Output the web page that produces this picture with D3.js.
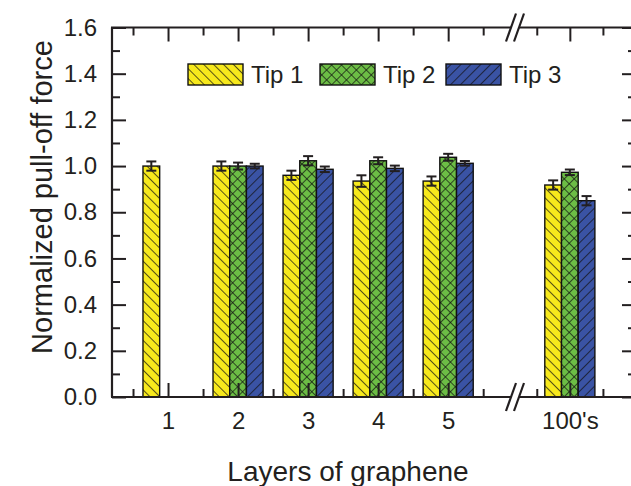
<!doctype html>
<html lang="en">
<head>
<meta charset="utf-8">
<title>Normalized pull-off force vs graphene layers</title>
<script src="https://cdn.jsdelivr.net/npm/d3@7"></script>
<style>
    body { margin: 0; background: #fff; }
    svg { display: block; font-family: Arial, "Liberation Sans", Helvetica, sans-serif; }
</style>
</head>
<body>
<svg></svg>
<script>
    // data
    var categories = ["1", "2", "3", "4", "5", "100's"];
    var catPos = [1, 2, 3, 4, 5, 7];          // position on the (broken) x axis
    var tips = ["Tip 1", "Tip 2", "Tip 3"];
    var tip1 = [1.00, 1.00, 0.96, 0.935, 0.935, 0.918];
    var tip2 = [null, 1.00, 1.023, 1.023, 1.038, 0.973];
    var tip3 = [null, 1.00, 0.986, 0.99, 1.012, 0.85];
    var tip1Err = [0.02, 0.02, 0.02, 0.025, 0.02, 0.02];
    var tip2Err = [null, 0.015, 0.02, 0.015, 0.015, 0.012];
    var tip3Err = [null, 0.01, 0.012, 0.012, 0.01, 0.02];
    var yMajor = [0, 0.2, 0.4, 0.6, 0.8, 1.0, 1.2, 1.4, 1.6];
    var yMinor = [0.1, 0.3, 0.5, 0.7, 0.9, 1.1, 1.3, 1.5];
    var xMinor = [0.5, 1.5, 2.5, 3.5, 4.5, 5.5, 6.5, 7.5];

    var width = 631, height = 486;
    var padLeft = 112, padRight = 636, padTop = 27.5, padBottom = 397;
    var ink = "#231f20";
    var colors = ["#f7e91c", "#6cbd45", "#3a53a4"];
    var series = [tip1, tip2, tip3];
    var errs = [tip1Err, tip2Err, tip3Err];
    var barW = 16.7;
    var breakX = 515;

    var svg = d3.select("svg").attr("width", width).attr("height", height);

    // x scale with a break between 5 and 100's
    var xScale = d3.scaleLinear()
        .domain([0.2, 5.84, 6.05, 8.0])
        .range([padLeft, 507, 507, padRight]);
    var yScale = d3.scaleLinear().domain([0, 1.6]).range([padBottom, padTop]);

    // hatch patterns
    var defs = svg.append("defs");
    function hatch(id, fill, angle, cross) {
        var p = defs.append("pattern")
            .attr("id", id)
            .attr("patternUnits", "userSpaceOnUse")
            .attr("width", 7).attr("height", 7)
            .attr("patternTransform", "rotate(" + angle + ")");
        p.append("rect").attr("width", 7).attr("height", 7).attr("fill", fill);
        p.append("line").attr("x1", 0).attr("y1", 0).attr("x2", 0).attr("y2", 7)
            .attr("stroke", "#111").attr("stroke-width", 1.4);
        if (cross) {
            p.append("line").attr("x1", 0).attr("y1", 0).attr("x2", 7).attr("y2", 0)
                .attr("stroke", "#111").attr("stroke-width", 1.4);
        }
    }
    hatch("pat0", colors[0], -45, false);
    hatch("pat1", colors[1], 45, true);
    hatch("pat2", colors[2], 45, false);

    // flatten bars
    var bars = [];
    categories.forEach(function (c, i) {
        series.forEach(function (s, k) {
            if (s[i] != null) bars.push({ cat: i, tip: k, v: s[i], e: errs[k][i] });
        });
    });

    function barX(d) { return xScale(catPos[d.cat]) + (d.tip - 1.5) * barW; }

    svg.append("g").selectAll("rect")
        .data(bars)
        .enter()
        .append("rect")
        .attr("x", barX)
        .attr("y", function (d) { return yScale(d.v); })
        .attr("width", barW)
        .attr("height", function (d) { return yScale(0) - yScale(d.v); })
        .attr("fill", function (d) { return "url(#pat" + d.tip + ")"; })
        .attr("stroke", "#111")
        .attr("stroke-width", 1.4);

    // error bars
    var eb = svg.append("g").attr("stroke", ink).attr("stroke-width", 2);
    bars.forEach(function (d) {
        var cx = barX(d) + barW / 2;
        eb.append("line").attr("x1", cx).attr("x2", cx)
            .attr("y1", yScale(d.v + d.e)).attr("y2", yScale(d.v - d.e));
        [d.v + d.e, d.v - d.e].forEach(function (v) {
            eb.append("line").attr("x1", cx - 5).attr("x2", cx + 5)
                .attr("y1", yScale(v)).attr("y2", yScale(v));
        });
    });

    function styleAxis(g) {
        g.select(".domain").remove();
        g.selectAll("line").attr("stroke", ink).attr("stroke-width", 2);
        g.selectAll("text").attr("fill", ink).attr("font-size", 24);
    }

    // y axes (left with labels, right mirrored)
    svg.append("g").attr("transform", "translate(" + padLeft + ",0)")
        .call(d3.axisLeft(yScale).tickValues(yMajor).tickFormat(d3.format(".1f"))
            .tickSize(-14).tickPadding(15))
        .call(styleAxis);
    svg.append("g").attr("transform", "translate(" + padLeft + ",0)")
        .call(d3.axisLeft(yScale).tickValues(yMinor).tickFormat("").tickSize(-8))
        .call(styleAxis);
    svg.append("g").attr("transform", "translate(" + padRight + ",0)")
        .call(d3.axisRight(yScale).tickValues(yMajor).tickFormat("").tickSize(-14))
        .call(styleAxis);
    svg.append("g").attr("transform", "translate(" + padRight + ",0)")
        .call(d3.axisRight(yScale).tickValues(yMinor).tickFormat("").tickSize(-8))
        .call(styleAxis);

    // x axes (bottom with labels, top mirrored)
    svg.append("g").attr("transform", "translate(0," + padBottom + ")")
        .call(d3.axisBottom(xScale).tickValues(catPos)
            .tickFormat(function (d, i) { return categories[i]; })
            .tickSize(-14).tickPadding(15))
        .call(styleAxis);
    svg.append("g").attr("transform", "translate(0," + padBottom + ")")
        .call(d3.axisBottom(xScale).tickValues(xMinor).tickFormat("").tickSize(-8))
        .call(styleAxis);
    svg.append("g").attr("transform", "translate(0," + padTop + ")")
        .call(d3.axisTop(xScale).tickValues(catPos).tickFormat("").tickSize(-14))
        .call(styleAxis);
    svg.append("g").attr("transform", "translate(0," + padTop + ")")
        .call(d3.axisTop(xScale).tickValues(xMinor).tickFormat("").tickSize(-8))
        .call(styleAxis);

    // frame lines with break gap
    var frame = svg.append("g").attr("stroke", ink).attr("stroke-width", 2.2).attr("fill", "none");
    frame.append("line").attr("x1", padLeft).attr("x2", padLeft).attr("y1", padTop).attr("y2", padBottom);
    frame.append("line").attr("x1", padRight).attr("x2", padRight).attr("y1", padTop).attr("y2", padBottom);
    [padTop, padBottom].forEach(function (yy) {
        frame.append("line").attr("x1", padLeft - 1).attr("x2", breakX - 4).attr("y1", yy).attr("y2", yy);
        frame.append("line").attr("x1", breakX + 4).attr("x2", padRight).attr("y1", yy).attr("y2", yy);
        [-4, 4].forEach(function (o) {
            frame.append("line")
                .attr("x1", breakX + o - 5).attr("y1", yy + 14)
                .attr("x2", breakX + o + 5).attr("y2", yy - 14);
        });
    });

    // axis titles
    svg.append("text")
        .attr("transform", "translate(52,197) rotate(-90)")
        .attr("text-anchor", "middle")
        .attr("fill", ink)
        .attr("font-size", 29)
        .text("Normalized pull-off force");
    svg.append("text")
        .attr("x", 348).attr("y", 481)
        .attr("text-anchor", "middle")
        .attr("fill", ink)
        .attr("font-size", 28)
        .text("Layers of graphene");

    // legend
    var legendX = [188, 320, 446];
    var lg = svg.append("g");
    tips.forEach(function (t, k) {
        lg.append("rect")
            .attr("x", legendX[k]).attr("y", 64)
            .attr("width", 55).attr("height", 21)
            .attr("fill", "url(#pat" + k + ")")
            .attr("stroke", "#111").attr("stroke-width", 1.4);
        lg.append("text")
            .attr("x", legendX[k] + 63).attr("y", 83)
            .attr("fill", ink)
            .attr("font-size", 24)
            .text(t);
    });
</script>
</body>
</html>
